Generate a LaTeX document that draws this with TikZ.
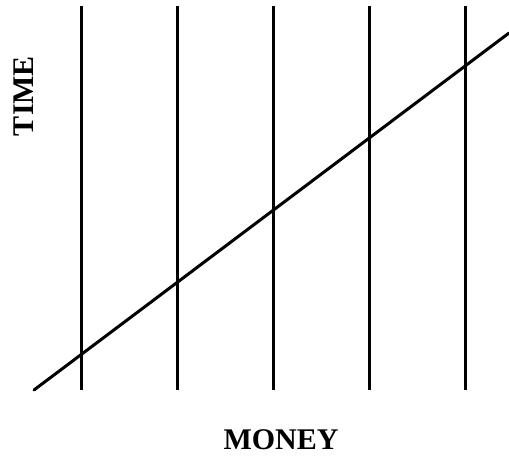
\documentclass[tikz,border=0pt]{standalone}
\usepackage{fontspec}
\setmainfont{Liberation Serif}
\usetikzlibrary{positioning}

\begin{document}
\begin{tikzpicture}[x=1pt, y=-1pt,
        axislabel/.style = {font=\fontsize{30}{30}\selectfont\bfseries, inner sep=0pt}]
            {
                \tikzset{every path/.style = {line width=3pt}}

                \useasboundingbox (0, 0) rectangle (509, 457);

                % vertical lines
                \foreach \x [count=\i] in {81, 177, 273, 369, 465} {
                    \coordinate (top\i) at (\x, 6);
                    \coordinate (bot\i) at (\x, 390);
                    \draw (top\i) -- (bot\i);
                }

                % the rising line
                \coordinate (start) at (34, 390);
                \coordinate (end) at (509, 33);
                \draw[line cap=round] (start) -- (end);
            }

            \node[axislabel, rotate=90] (time) at (23.5, 96) {TIME};
            \node[axislabel] (money) at (281, 440) {MONEY};

        \end{tikzpicture}
\end{document}
